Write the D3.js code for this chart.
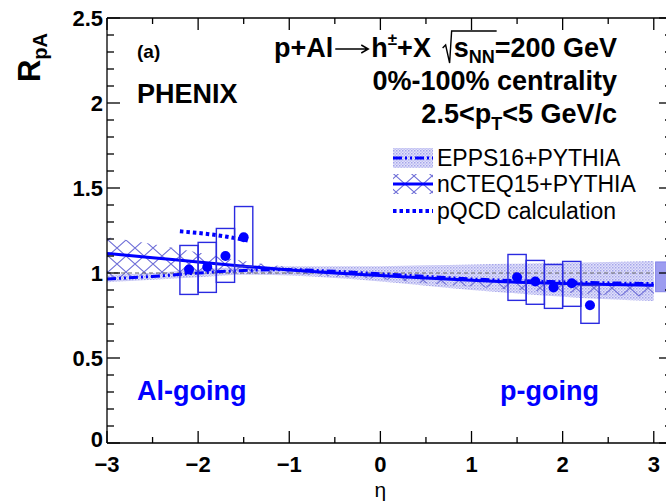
<!DOCTYPE html>
<html>
<head>
<meta charset="utf-8">
<script src="https://cdn.jsdelivr.net/npm/d3@7"></script>
<style>
  body { margin: 0; background: #fff; }
  svg { display: block; }
  text { font-family: "Liberation Sans", Arial, Helvetica, sans-serif; }
</style>
</head>
<body>
<svg id="chart" width="666" height="504"></svg>
<script>
// ---- Measured R_pA points (PHENIX, p+Al, 0-100%) ----
const dataEta  = [-2.1, -1.9, -1.7, -1.5, 1.5, 1.7, 1.9, 2.1, 2.3];
const dataRpA  = [1.02, 1.035, 1.10, 1.21, 0.975, 0.95, 0.915, 0.94, 0.81];
const sysLow   = [0.874, 0.886, 0.945, 1.039, 0.839, 0.816, 0.792, 0.804, 0.704];
const sysHigh  = [1.162, 1.180, 1.262, 1.391, 1.109, 1.074, 1.050, 1.068, 0.927];
const binHalfWidth = 0.1;

// ---- Global normalisation uncertainty ----
const globalUnc = [0.89, 1.065];

// ---- Model curves ----
const theoryEta   = [-3, -2.5, -2, -1.5, -1, -0.5, 0, 0.5, 1, 1.5, 2, 2.5, 3];
const eppsCentral = [0.965, 0.98, 1.0, 1.015, 1.02, 1.01, 0.995, 0.98, 0.965, 0.955, 0.948, 0.942, 0.938];
const eppsUpper   = [0.99, 1.0, 1.02, 1.035, 1.04, 1.04, 1.04, 1.045, 1.05, 1.055, 1.06, 1.065, 1.07];
const eppsLower   = [0.945, 0.96, 0.975, 0.99, 0.985, 0.97, 0.95, 0.925, 0.9, 0.88, 0.86, 0.845, 0.835];
const ncteqCentral = [1.115, 1.09, 1.065, 1.04, 1.018, 1.0, 0.985, 0.97, 0.957, 0.946, 0.938, 0.932, 0.928];
const ncteqUpper   = [1.21, 1.17, 1.12, 1.07, 1.035, 1.01, 0.99, 0.975, 0.962, 0.952, 0.945, 0.94, 0.935];
const ncteqLower   = [0.97, 0.99, 1.0, 1.0, 0.995, 0.98, 0.965, 0.94, 0.92, 0.9, 0.885, 0.87, 0.86];
const pqcdEta = [-2.2, -1.9, -1.7, -1.45];
const pqcdRpA = [1.245, 1.23, 1.215, 1.19];

// ---- Axis ticks ----
const xMajor = [-3, -2, -1, 0, 1, 2, 3];
const xMinor = [-2.5, -1.5, -0.5, 0.5, 1.5, 2.5];
const yMajor = [0, 0.5, 1, 1.5, 2, 2.5];
const yTickLabels = ["0", "0.5", "1", "1.5", "2", "2.5"];
const xTickLabels = ["\u22123", "\u22122", "\u22121", "0", "1", "2", "3"];

const legendLabels = ["EPPS16+PYTHIA", "nCTEQ15+PYTHIA", "pQCD calculation"];

const blue = "#0000ff";
const boxBlue = "#2a2ae0";

const svg = d3.select("#chart");
const x = d3.scaleLinear().domain([-3, 3.2]).range([107, 672]);
const y = d3.scaleLinear().domain([0, 2.5]).range([443, 18]);

// ---- Fill patterns ----
const defs = svg.append("defs");
const dotPat = defs.append("pattern").attr("id", "dotfill")
  .attr("patternUnits", "userSpaceOnUse").attr("width", 3).attr("height", 3);
dotPat.append("rect").attr("width", 3).attr("height", 3).attr("fill", "#e2e2fa");
dotPat.append("rect").attr("width", 1.5).attr("height", 1.5).attr("fill", "#a4a4ea");
dotPat.append("rect").attr("x", 1.5).attr("y", 1.5).attr("width", 1.5).attr("height", 1.5).attr("fill", "#c0c0f2");

const hatchPat = defs.append("pattern").attr("id", "xhatch")
  .attr("patternUnits", "userSpaceOnUse").attr("width", 18).attr("height", 16);
hatchPat.append("path").attr("d", "M0,0L18,16M0,16L18,0")
  .attr("stroke", "#7070d8").attr("stroke-width", 1.1).attr("fill", "none");

defs.append("clipPath").attr("id", "plotclip").append("rect")
  .attr("x", x(-3)).attr("y", y(2.5)).attr("width", x(3.2) - x(-3)).attr("height", y(0) - y(2.5));

const plot = svg.append("g").attr("clip-path", "url(#plotclip)");

const bandArea = (up, lo) => d3.area()
  .x((d, i) => x(theoryEta[i])).y0((d, i) => y(lo[i])).y1((d, i) => y(up[i]))
  .curve(d3.curveMonotoneX);
const curveLine = (xs, ys) => d3.line().x((d, i) => x(xs[i])).y((d, i) => y(ys[i])).curve(d3.curveMonotoneX);

// bands
plot.append("path").datum(theoryEta).attr("d", bandArea(eppsUpper, eppsLower))
  .attr("fill", "url(#dotfill)");
plot.append("path").datum(theoryEta).attr("d", bandArea(ncteqUpper, ncteqLower))
  .attr("fill", "url(#xhatch)");

// reference line at unity
plot.append("line").attr("x1", x(-3)).attr("x2", x(3)).attr("y1", y(1)).attr("y2", y(1))
  .attr("stroke", "#666").attr("stroke-width", 1.2).attr("stroke-dasharray", "4,3");

// global normalisation box
plot.append("rect").attr("x", x(3.02)).attr("width", x(3.2) - x(3.02))
  .attr("y", y(globalUnc[1])).attr("height", y(globalUnc[0]) - y(globalUnc[1]))
  .attr("fill", "#9c9cf0").attr("stroke", "#8484e8");

// model curves
plot.append("path").datum(theoryEta).attr("d", curveLine(theoryEta, eppsCentral))
  .attr("fill", "none").attr("stroke", blue).attr("stroke-width", 3)
  .attr("stroke-dasharray", "9,3,2,3,2,3");
plot.append("path").datum(theoryEta).attr("d", curveLine(theoryEta, ncteqCentral))
  .attr("fill", "none").attr("stroke", blue).attr("stroke-width", 3);
plot.append("path").datum(pqcdEta).attr("d", curveLine(pqcdEta, pqcdRpA))
  .attr("fill", "none").attr("stroke", blue).attr("stroke-width", 4)
  .attr("stroke-dasharray", "3.5,3");

// systematic boxes
plot.selectAll("rect.sys").data(dataEta).enter().append("rect").attr("class", "sys")
  .attr("x", d => x(d - binHalfWidth)).attr("width", d => x(d + binHalfWidth) - x(d - binHalfWidth))
  .attr("y", (d, i) => y(sysHigh[i])).attr("height", (d, i) => y(sysLow[i]) - y(sysHigh[i]))
  .attr("fill", "none").attr("stroke", boxBlue).attr("stroke-width", 1.4);

// points
plot.selectAll("circle.pt").data(dataEta).enter().append("circle").attr("class", "pt")
  .attr("cx", d => x(d)).attr("cy", (d, i) => y(dataRpA[i])).attr("r", 5)
  .attr("fill", blue);

// ---- Frame and ticks ----
const axisG = svg.append("g").attr("stroke", "#000").attr("stroke-width", 1.3);
axisG.append("line").attr("x1", x(-3)).attr("x2", x(3.2)).attr("y1", y(0)).attr("y2", y(0));
axisG.append("line").attr("x1", x(-3)).attr("x2", x(3.2)).attr("y1", y(2.5)).attr("y2", y(2.5));
axisG.append("line").attr("x1", x(-3)).attr("x2", x(-3)).attr("y1", y(0)).attr("y2", y(2.5));
axisG.append("line").attr("x1", x(3.2)).attr("x2", x(3.2)).attr("y1", y(0)).attr("y2", y(2.5));

const xTicks = xMajor.map(v => [v, 12]).concat(xMinor.map(v => [v, 6]));
xTicks.forEach(([v, len]) => {
  axisG.append("line").attr("x1", x(v)).attr("x2", x(v)).attr("y1", y(0)).attr("y2", y(0) - len);
  axisG.append("line").attr("x1", x(v)).attr("x2", x(v)).attr("y1", y(2.5)).attr("y2", y(2.5) + len);
});
const yMinor = d3.range(0, 26).map(k => k / 10).filter(v => Math.abs(v * 2 - Math.round(v * 2)) > 1e-6);
const yTicks = yMajor.map(v => [v, 13]).concat(yMinor.map(v => [v, 7]));
yTicks.forEach(([v, len]) => {
  axisG.append("line").attr("x1", x(-3)).attr("x2", x(-3) + len).attr("y1", y(v)).attr("y2", y(v));
  axisG.append("line").attr("x1", x(3.2)).attr("x2", x(3.2) - len).attr("y1", y(v)).attr("y2", y(v));
});

// tick labels
svg.selectAll("text.ylab").data(yMajor).enter().append("text").attr("class", "ylab")
  .attr("x", 103).attr("y", d => y(d) + (d === 0 ? 4 : 8)).attr("text-anchor", "end")
  .attr("font-weight", "bold").attr("font-size", 22).text((d, i) => yTickLabels[i]);
svg.selectAll("text.xlab").data(xMajor).enter().append("text").attr("class", "xlab")
  .attr("x", d => x(d)).attr("y", 472).attr("text-anchor", "middle")
  .attr("font-weight", "bold").attr("font-size", 22).text((d, i) => xTickLabels[i]);

// axis titles
svg.append("text").attr("x", x(0)).attr("y", 497).attr("text-anchor", "middle")
  .attr("font-family", "DejaVu Serif, serif").attr("font-size", 21).text("\u03b7");
const yt = svg.append("text").attr("transform", "translate(40,33) rotate(-90)")
  .attr("text-anchor", "end").attr("font-weight", "bold");
yt.append("tspan").attr("font-size", 31).text("R");
yt.append("tspan").attr("font-size", 20).attr("dy", 7).text("pA");

// ---- Annotations ----
svg.append("text").attr("x", 137).attr("y", 58).attr("font-weight", "bold").attr("font-size", 19).text("(a)");
svg.append("text").attr("x", 137).attr("y", 103).attr("font-weight", "bold").attr("font-size", 27).text("PHENIX");

// reaction: p+Al -> h(+-)+X, with a drawn arrow
const hBase = 57;
const hA = svg.append("text").attr("x", 274).attr("y", hBase).attr("font-weight", "bold")
  .attr("font-size", 27).text("p+Al");
const arrowX0 = 274 + hA.node().getComputedTextLength() + 2;
const arrowX1 = arrowX0 + 33;
svg.append("path")
  .attr("d", `M${arrowX0},${hBase - 8}L${arrowX1},${hBase - 8}M${arrowX1 - 7},${hBase - 12}L${arrowX1},${hBase - 8}L${arrowX1 - 7},${hBase - 4}`)
  .attr("fill", "none").attr("stroke", "#000").attr("stroke-width", 1.5);
const hB = svg.append("text").attr("x", arrowX1 + 3).attr("y", hBase).attr("font-weight", "bold").attr("font-size", 27);
hB.append("tspan").text("h");
hB.append("tspan").attr("font-size", 17).attr("dy", -12).text("\u00b1");
hB.append("tspan").attr("dy", 12).text("+X");

const h1b = svg.append("text").attr("x", 617).attr("y", hBase).attr("text-anchor", "end")
  .attr("font-weight", "bold").attr("font-size", 27);
h1b.append("tspan").text("s");
h1b.append("tspan").attr("font-size", 18).attr("dy", 6).text("NN");
h1b.append("tspan").attr("dy", -6).text("=200 GeV");
// radical sign over s_NN
const bb = h1b.node().getBBox();
const sStart = bb.x;
const nnEnd = sStart + h1b.node().getSubStringLength(0, 3);
svg.append("path")
  .attr("d", `M${sStart - 11},${48} L${sStart - 8},${45} L${sStart - 4},${63} L${sStart - 2},${31} L${nnEnd + 2},${31}`)
  .attr("fill", "none").attr("stroke", "#000").attr("stroke-width", 1.4);

svg.append("text").attr("x", 617).attr("y", 90).attr("text-anchor", "end")
  .attr("font-weight", "bold").attr("font-size", 27).text("0%-100% centrality");
const h3 = svg.append("text").attr("x", 617).attr("y", 123).attr("text-anchor", "end")
  .attr("font-weight", "bold").attr("font-size", 27);
h3.append("tspan").text("2.5<p");
h3.append("tspan").attr("font-size", 18).attr("dy", 7).text("T");
h3.append("tspan").attr("dy", -7).text("<5 GeV/c");

svg.append("text").attr("x", 137).attr("y", 400).attr("font-weight", "bold").attr("font-size", 27)
  .attr("fill", blue).text("Al-going");
svg.append("text").attr("x", 500).attr("y", 400).attr("font-weight", "bold").attr("font-size", 27)
  .attr("fill", blue).text("p-going");

// ---- Legend ----
const legX0 = 393, legX1 = 433;
const legY = [158, 184, 211];
const leg = svg.append("g");
leg.append("rect").attr("x", legX0).attr("y", legY[0] - 10).attr("width", legX1 - legX0).attr("height", 20)
  .attr("fill", "url(#dotfill)");
leg.append("line").attr("x1", legX0).attr("x2", legX1).attr("y1", legY[0]).attr("y2", legY[0])
  .attr("stroke", blue).attr("stroke-width", 3).attr("stroke-dasharray", "9,3,2,3,2,3");
leg.append("rect").attr("x", legX0).attr("y", legY[1] - 10).attr("width", legX1 - legX0).attr("height", 20)
  .attr("fill", "url(#xhatch)");
leg.append("line").attr("x1", legX0).attr("x2", legX1).attr("y1", legY[1]).attr("y2", legY[1])
  .attr("stroke", blue).attr("stroke-width", 3);
leg.append("line").attr("x1", legX0).attr("x2", legX1).attr("y1", legY[2]).attr("y2", legY[2])
  .attr("stroke", blue).attr("stroke-width", 4).attr("stroke-dasharray", "3.5,3");
leg.selectAll("text").data(legendLabels).enter().append("text")
  .attr("x", 437).attr("y", (d, i) => legY[i] + 8).attr("font-size", 23).text(d => d);
</script>
</body>
</html>
